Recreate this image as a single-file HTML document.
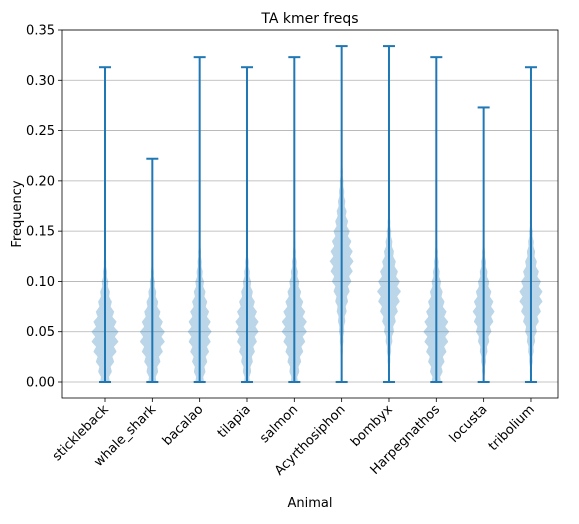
<!DOCTYPE html>
<html><head><meta charset="utf-8"><style>
body{margin:0;background:#fff}
text{font-family:"DejaVu Sans","Liberation Sans",sans-serif;fill:#000}
</style></head><body>
<svg id="chart" width="579" height="519" xmlns="http://www.w3.org/2000/svg">
<rect width="579" height="519" fill="#fff"/>
<g id="grid"></g><g id="violins"></g><g id="axes"></g>
<text x="310" y="23" font-size="14" text-anchor="middle">TA kmer freqs</text>
<text x="310" y="507" font-size="13" text-anchor="middle">Animal</text>
<text transform="translate(21,214) rotate(-90)" font-size="13" text-anchor="middle">Frequency</text>
</svg>
<script>
const categories=["stickleback","whale_shark","bacalao","tilapia","salmon","Acyrthosiphon","bombyx","Harpegnathos","locusta","tribolium"];
const maxVals=[0.313,0.222,0.323,0.313,0.323,0.334,0.334,0.323,0.273,0.313];
const minVals=[0,0,0,0,0,0,0,0,0,0];
const means=[0.045,0.045,0.05,0.055,0.055,0.12,0.09,0.05,0.07,0.085];
const sds=[0.028,0.026,0.032,0.028,0.03,0.035,0.028,0.032,0.025,0.028];
const widths=[14,13,12,12,13,12,12,13,11,12];
const yTicks=[0,0.05,0.1,0.15,0.2,0.25,0.3,0.35];
const L=62,R=558,T=30,B=398;
const y=v=>382-v*(382-30)/0.35;
const x=i=>105+i*47.33;
const NS="http://www.w3.org/2000/svg";
function mk(p,t,a){const e=document.createElementNS(NS,t);for(const k in a)e.setAttribute(k,a[k]);p.appendChild(e);return e;}
const grid=document.getElementById('grid'),ax=document.getElementById('axes'),vg=document.getElementById('violins');
yTicks.forEach(t=>{
 const g=mk(grid,'line',{x1:L,x2:R,y1:y(t),y2:y(t),stroke:'#b0b0b0','stroke-width':0.8});
 
 
 mk(ax,'line',{x1:L-4,x2:L,y1:y(t),y2:y(t),stroke:'#000','stroke-width':0.8});
 const tx=mk(ax,'text',{x:L-7,y:y(t)+4.5,'font-size':13,'text-anchor':'end'});tx.textContent=t.toFixed(2);
 
 
});
mk(ax,'rect',{x:L,y:T,width:R-L,height:B-T,fill:'none',stroke:'#000','stroke-width':0.8});
categories.forEach((c,i)=>{
 const cx=x(i);
 let lo=Math.max(minVals[i],means[i]-3.3*sds[i]),hi=Math.min(maxVals[i],means[i]+3.3*sds[i]);
 const pts=[],n=240;
 for(let k=0;k<=n;k++){const v=lo+(hi-lo)*k/n;const z=Math.abs((v-means[i])/sds[i]);let d=Math.exp(-0.5*Math.pow(z,1.6));
  const ph=(v/0.01)%1;const zig=0.7+0.3*Math.abs(1-2*ph);
  pts.push([v,widths[i]*d*zig]);}
 let dstr=pts.map((p,k)=>(k?'L':'M')+(cx+p[1]).toFixed(1)+','+y(p[0]).toFixed(1)).join('');
 dstr+=pts.slice().reverse().map(p=>'L'+(cx-p[1]).toFixed(1)+','+y(p[0]).toFixed(1)).join('')+'Z';
 const vp=mk(vg,'path',{d:dstr,fill:'#1f77b4','fill-opacity':0.3});
 
 
 const ln=mk(vg,'line',{x1:cx,x2:cx,y1:y(minVals[i]),y2:y(maxVals[i]),stroke:'#1f77b4','stroke-width':2});
 
 
 [minVals[i],maxVals[i]].forEach(v=>mk(vg,'line',{x1:cx-6,x2:cx+6,y1:y(v),y2:y(v),stroke:'#1f77b4','stroke-width':2}));
 mk(ax,'line',{x1:cx,x2:cx,y1:B,y2:B+4,stroke:'#000','stroke-width':0.8});
 const tx=mk(ax,'text',{transform:`translate(${cx+4},${B+12}) rotate(-45)`,'font-size':13,'text-anchor':'end'});
 tx.textContent=c;
 
 
});
</script>
</body></html>
